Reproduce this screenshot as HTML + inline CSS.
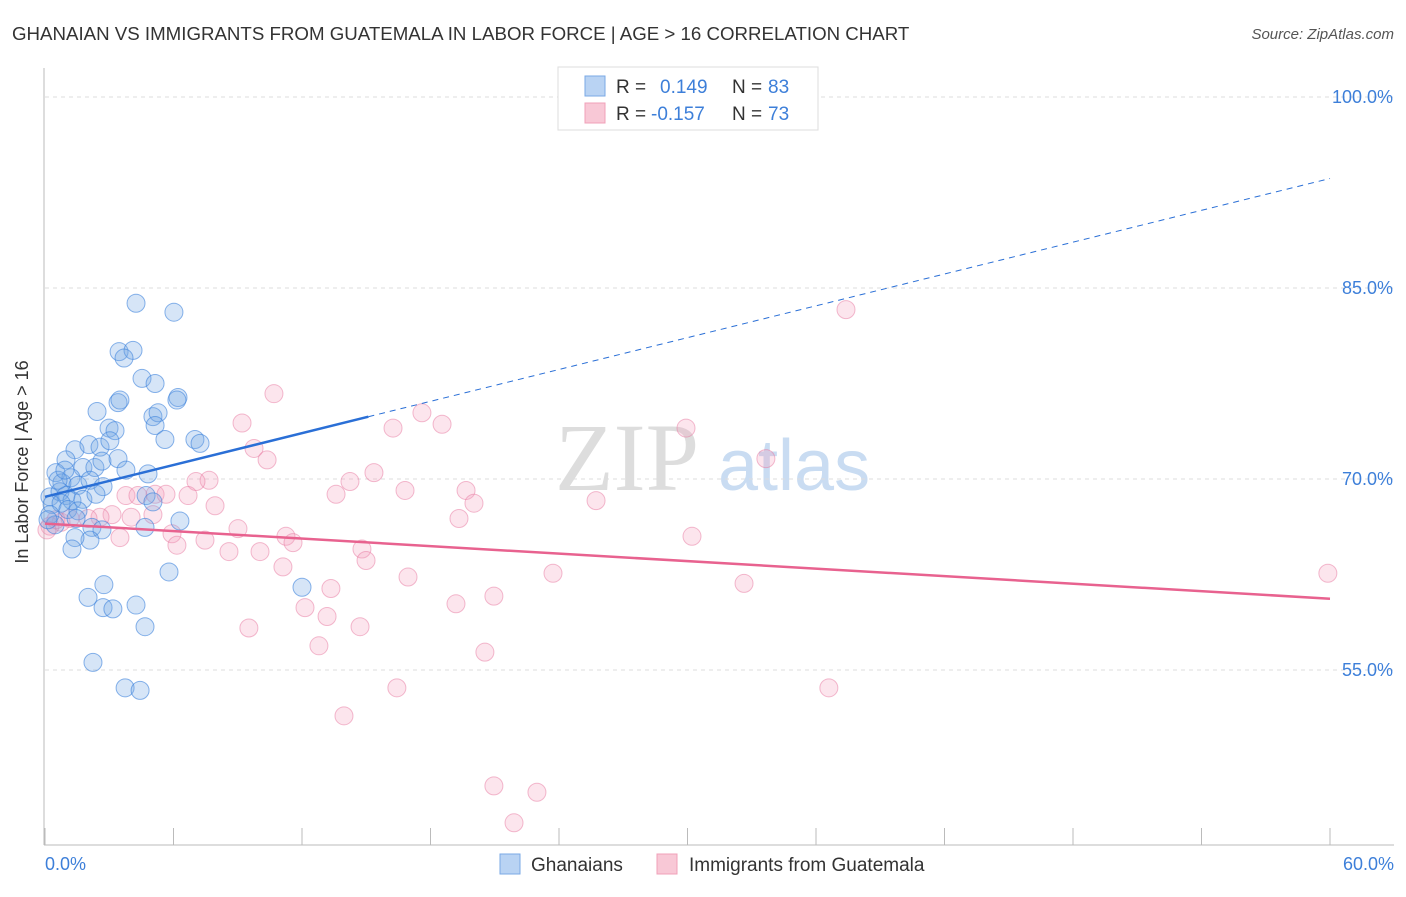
<!DOCTYPE html>
<html><head><meta charset="utf-8"><style>
body{margin:0;background:#fff;font-family:"Liberation Sans",sans-serif}
</style></head><body>
<svg width="1406" height="892" xmlns="http://www.w3.org/2000/svg" font-family="Liberation Sans, sans-serif">
<text x="12" y="40" font-size="18.7" fill="#333">GHANAIAN VS IMMIGRANTS FROM GUATEMALA IN LABOR FORCE | AGE &gt; 16 CORRELATION CHART</text>
<text x="1394" y="39" font-size="15" fill="#555" font-style="italic" text-anchor="end">Source: ZipAtlas.com</text>
<text x="555" y="490" font-size="96" fill="#ddd" font-family="Liberation Serif, serif">ZIP</text>
<text x="718" y="490" font-size="72" fill="#c9dcf2">atlas</text>
<g id="grid"></g>
<g id="axes"></g>
<g id="pts"></g>
<g id="trend"></g>
<text x="21" y="455" font-size="18" fill="#333" text-anchor="middle" transform="rotate(-90 28 455)">In Labor Force | Age &gt; 16</text>
<text x="45" y="870" font-size="18" fill="#3d7fd9">0.0%</text>
<text x="1394" y="870" font-size="18" fill="#3d7fd9" text-anchor="end">60.0%</text>
<g>
<rect x="558" y="67" width="260" height="63" fill="#fff" stroke="#ddd"/>
<rect x="585" y="76" width="20" height="20" fill="#b9d3f3" stroke="#7aa8e6"/>
<rect x="585" y="103" width="20" height="20" fill="#f8c8d6" stroke="#f0a0b8"/>
<text x="616" y="93" font-size="19" fill="#333">R = </text><text x="660" y="93" font-size="19" fill="#3d7fd9">0.149</text>
<text x="732" y="93" font-size="19" fill="#333">N = </text><text x="768" y="93" font-size="19" fill="#3d7fd9">83</text>
<text x="616" y="120" font-size="19" fill="#333">R = </text><text x="651" y="120" font-size="19" fill="#3d7fd9">-0.157</text>
<text x="732" y="120" font-size="19" fill="#333">N = </text><text x="768" y="120" font-size="19" fill="#3d7fd9">73</text>
</g>
<g>
<rect x="500" y="854" width="20" height="20" fill="#b9d3f3" stroke="#7aa8e6"/>
<text x="531" y="871" font-size="19" fill="#333">Ghanaians</text>
<rect x="657" y="854" width="20" height="20" fill="#f8c8d6" stroke="#f0a0b8"/>
<text x="689" y="871" font-size="19" fill="#333">Immigrants from Guatemala</text>
</g>
</svg>
<script>
const yTicks=[100,85,70,55];
const yTickLabels=["100.0%","85.0%","70.0%","55.0%"];
const xTicks=[0,6,12,18,24,30,36,42,48,54,60];
const blueX=[4.25,6.02,3.46,4.11,3.69,4.53,5.14,3.41,3.5,6.21,6.16,2.43,5.04,5.28,5.14,2.99,3.27,5.6,7.0,7.24,1.4,2.05,2.57,3.03,0.98,1.77,2.33,2.66,3.41,3.78,4.81,0.51,1.21,0.79,1.54,2.1,2.71,0.23,0.7,0.98,1.26,1.77,2.38,0.33,0.75,1.07,1.54,0.23,1.45,2.19,2.66,2.1,1.4,4.72,5.04,6.3,4.67,1.26,2.01,2.75,2.71,3.17,4.25,4.67,5.79,12.0,2.24,3.74,4.44,0.47,0.14,0.61,0.93];
const blueY=[83.8,83.1,80.0,80.1,79.5,77.9,77.5,76.0,76.2,76.4,76.2,75.3,74.9,75.2,74.2,74.0,73.8,73.1,73.1,72.8,72.3,72.7,72.5,73.0,71.5,70.9,70.9,71.4,71.6,70.7,70.4,70.5,70.1,69.7,69.5,69.9,69.4,68.6,69.0,68.7,68.3,68.4,68.8,68.0,68.1,67.6,67.5,67.2,66.9,66.2,66.0,65.2,65.4,68.7,68.2,66.7,66.2,64.5,60.7,61.7,59.9,59.8,60.1,58.4,62.7,61.5,55.6,53.6,53.4,66.4,66.8,69.9,70.7];
const pinkX=[37.4,10.69,17.6,9.2,16.25,18.54,29.93,9.76,10.37,33.66,15.36,14.24,7.66,7.05,16.81,19.66,20.03,13.59,25.73,3.78,4.34,5.14,5.65,6.68,7.94,5.04,4.02,3.13,2.57,2.01,0.75,19.33,9.01,5.93,11.25,11.58,3.5,6.16,7.47,30.21,8.59,10.04,14.8,14.99,11.11,23.72,16.95,32.64,59.9,13.35,20.96,12.14,19.19,9.52,14.71,13.17,12.79,20.54,16.43,36.6,13.96,20.96,22.97,21.9,0.23,0.51,1.17,0.09];
const pinkY=[83.3,76.7,75.2,74.4,74.0,74.3,74.0,72.4,71.5,71.6,70.5,69.8,69.9,69.8,69.1,69.1,68.1,68.8,68.3,68.7,68.7,68.8,68.8,68.7,67.9,67.2,67.0,67.2,67.0,66.9,66.6,66.9,66.1,65.7,65.5,65.0,65.4,64.8,65.2,65.5,64.3,64.3,64.5,63.6,63.1,62.6,62.3,61.8,62.6,61.4,60.8,59.9,60.2,58.3,58.4,59.2,56.9,56.4,53.6,53.6,51.4,45.9,45.4,43.0,66.3,66.8,66.9,66.0];
const blueTrend=[68.6,93.6]; const blueSolidEnd=15.1;
const pinkTrend=[66.5,60.6];
const NS="http://www.w3.org/2000/svg";
const X=v=>45+v/60*1285, Y=v=>97+(100-v)*191/15;
function mk(t,a,p){const e=document.createElementNS(NS,t);for(const k in a)e.setAttribute(k,a[k]);p.appendChild(e);return e;}
const grid=document.getElementById('grid'),axes=document.getElementById('axes'),pts=document.getElementById('pts'),tr=document.getElementById('trend');
yTicks.forEach((t,i)=>{const l=mk('line',{x1:45,x2:1394,y1:Y(t),y2:Y(t),stroke:'#ddd','stroke-dasharray':'4 4'},grid);


const tx=mk('text',{x:1393,y:Y(t)+6,'font-size':18,fill:'#3d7fd9','text-anchor':'end'},grid);tx.textContent=yTickLabels[i];

});
const ya=mk('line',{x1:44,x2:44,y1:68,y2:845,stroke:'#bbb'},axes);


const xa=mk('line',{x1:44,x2:1394,y1:845,y2:845,stroke:'#bbb'},axes);


xTicks.forEach(t=>{const l=mk('line',{x1:X(t),x2:X(t),y1:828,y2:845,stroke:'#bbb'},axes);

});
pinkX.forEach((x,i)=>{const c=mk('circle',{cx:X(x),cy:Y(pinkY[i]),r:9,fill:'rgba(245,160,190,0.28)',stroke:'rgba(232,120,160,0.5)','stroke-width':1},pts);

});
blueX.forEach((x,i)=>{const c=mk('circle',{cx:X(x),cy:Y(blueY[i]),r:9,fill:'rgba(120,170,230,0.3)',stroke:'rgba(60,130,220,0.6)','stroke-width':1},pts);

});
const bt=x=>blueTrend[0]+(blueTrend[1]-blueTrend[0])*x/60;
const b1=mk('line',{x1:X(0),y1:Y(bt(0)),x2:X(blueSolidEnd),y2:Y(bt(blueSolidEnd)),stroke:'#2a6fd6','stroke-width':2.5},tr);


const b2=mk('line',{x1:X(blueSolidEnd),y1:Y(bt(blueSolidEnd)),x2:X(60),y2:Y(bt(60)),stroke:'#2a6fd6','stroke-width':1,'stroke-dasharray':'6 5'},tr);


const p1=mk('line',{x1:X(0),y1:Y(pinkTrend[0]),x2:X(60),y2:Y(pinkTrend[1]),stroke:'#e8628f','stroke-width':2.5},tr);


</script>
</body></html>
